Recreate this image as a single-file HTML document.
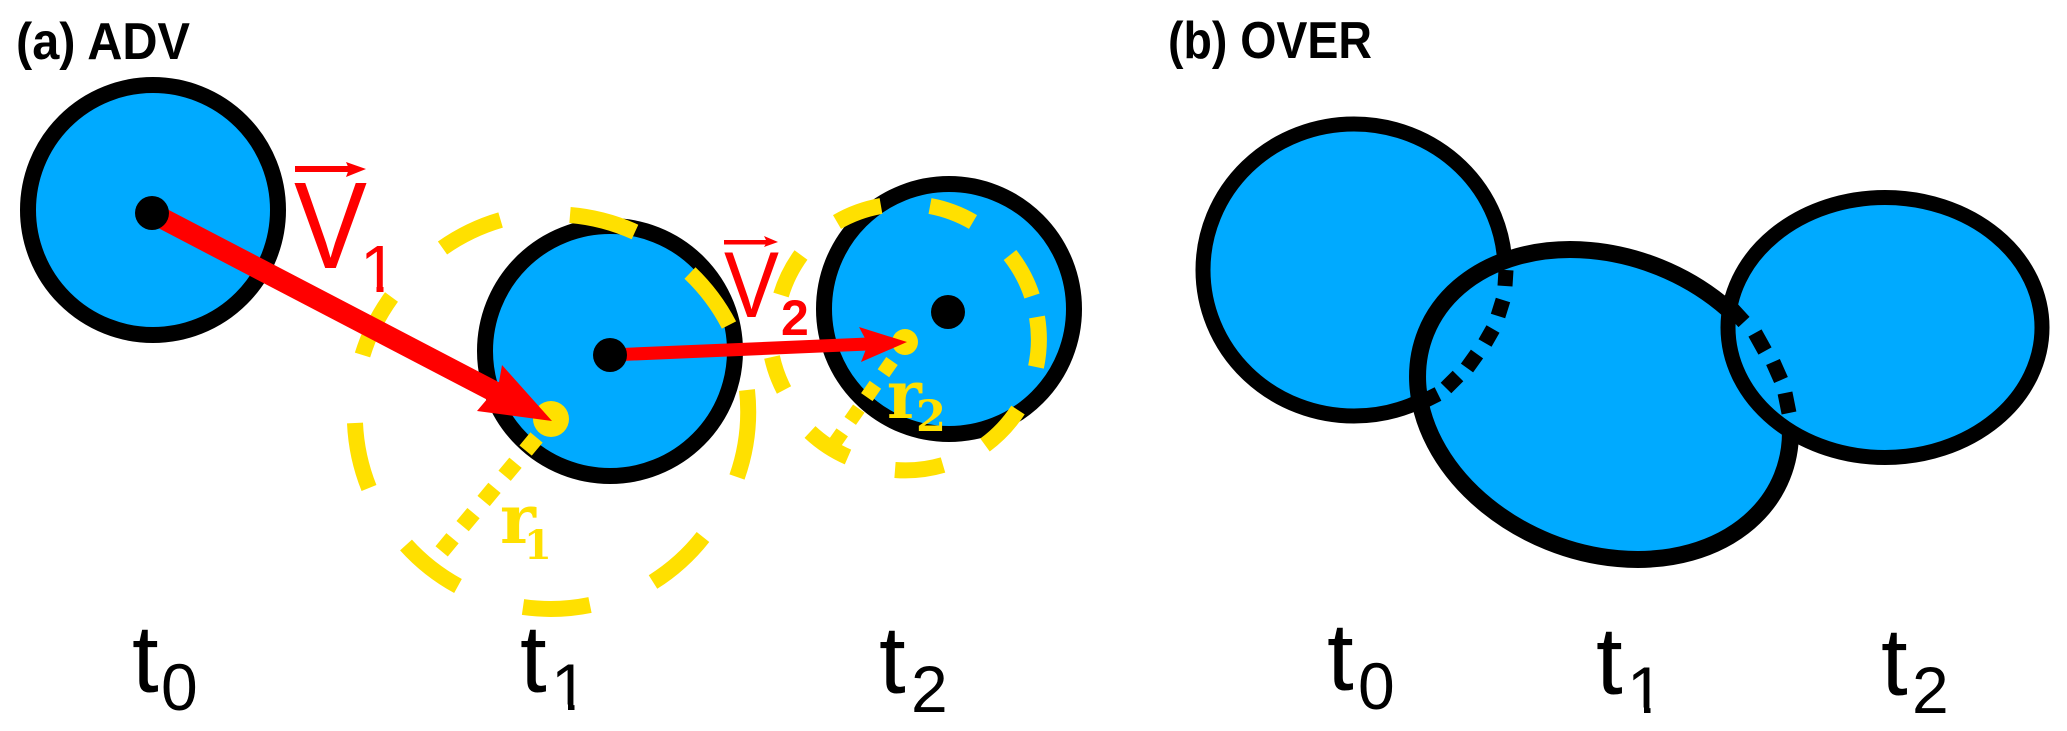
<!DOCTYPE html>
<html><head><meta charset="utf-8"><style>
html,body{margin:0;padding:0;background:#fff;width:2067px;height:731px;overflow:hidden}
svg{display:block}
text{font-family:"Liberation Sans",sans-serif}
.title{font-weight:700;font-size:52px}
.t{font-size:96px}
.s{font-size:66px}
.r{font-family:"DejaVu Serif",serif;font-weight:700;fill:#ffe000}
</style></head><body>
<svg width="2067" height="731" viewBox="0 0 2067 731" xmlns="http://www.w3.org/2000/svg">
<rect width="2067" height="731" fill="#fff"/>
<text class="title" x="16" y="59" textLength="174" lengthAdjust="spacingAndGlyphs">(a) ADV</text>
<text class="title" x="1168" y="58" textLength="204" lengthAdjust="spacingAndGlyphs">(b) OVER</text>

<g fill="#00aaff" stroke="#000" stroke-width="16">
<circle cx="153" cy="210" r="125"/>
<circle cx="610" cy="351" r="125"/>
<circle cx="949" cy="309" r="125"/>
</g>

<g fill="#f00">
<text x="360" y="292" font-size="67">1</text>
</g>
<g fill="#fff">
<rect x="362" y="286" width="14.5" height="7"/>
<rect x="383.5" y="286" width="15" height="7"/>
</g>

<g fill="none" stroke="#ffe000" stroke-width="16">
<path d="M442.5 248A197 197 0 0 1 500.6 220M570 215A197 197 0 0 1 635 232M690 273A197 197 0 0 1 729 325M747 390A197 197 0 0 1 737 477M703 537A197 197 0 0 1 653 582M590 605A197 197 0 0 1 523 607M458 586A197 197 0 0 1 406 545M369 488A197 197 0 0 1 355 423M362.5 355A197 197 0 0 1 391.5 297"/>
<path d="M837 222A134 134 0 0 1 881 206M930 206A134 134 0 0 1 973 222M1010 255A134 134 0 0 1 1032 296M1037 317A134 134 0 0 1 1036 367M1018 410A134 134 0 0 1 985 445M943 465A134 134 0 0 1 895 470M848 457A134 134 0 0 1 810 432M784 390A134 134 0 0 1 772 357M781 295A134 134 0 0 1 801 255"/>
<line x1="536.5" y1="437.5" x2="441.5" y2="551.5" stroke-dasharray="17 15.8"/>
<line x1="892" y1="361" x2="832" y2="447" stroke-width="14" stroke-dasharray="15 14"/>
</g>
<circle cx="551" cy="419" r="18" fill="#ffe000"/>
<circle cx="905" cy="342" r="13" fill="#ffe000"/>

<g fill="#f00" stroke="none">
<line x1="152" y1="213" x2="495" y2="392" stroke="#f00" stroke-width="21"/>
<polygon points="552,421 502,365 499,382 488,398 477,411"/>
<line x1="610" y1="355" x2="868" y2="344" stroke="#f00" stroke-width="13"/>
<polygon points="907,342 859,327 868,344 861,362"/>
<rect x="295" y="166" width="55" height="6"/>
<polygon points="366,169 346,162 349,169 346,177"/>
<rect x="724" y="240" width="44" height="4.5"/>
<polygon points="778,242 764,236 767,242 764,247"/>
<text x="294" y="268" font-size="123" textLength="73" lengthAdjust="spacingAndGlyphs">V</text>
<text x="724" y="317" font-size="94" textLength="55" lengthAdjust="spacingAndGlyphs">V</text>
<text x="781" y="335" font-size="50" font-weight="700">2</text>
</g>

<g fill="#000">
<circle cx="152" cy="213" r="17"/>
<circle cx="610" cy="355" r="17"/>
<circle cx="948" cy="312" r="17"/>
</g>

<text class="r" x="500" y="543" font-size="68">r</text>
<text class="r" x="524" y="559" font-size="40">1</text>
<text class="r" x="887" y="418" font-size="66">r</text>
<text class="r" x="916" y="431" font-size="43">2</text>

<text class="t" x="132" y="692">t</text><text class="s" x="161" y="710">0</text>
<text class="t" x="520" y="692">t</text><text class="s" x="551" y="710">1</text>
<rect x="553" y="704.5" width="15" height="7" fill="#fff"/><rect x="574.5" y="704.5" width="15" height="7" fill="#fff"/>
<text class="t" x="879" y="693">t</text><text class="s" x="911" y="712">2</text>
<text class="t" x="1327" y="690">t</text><text class="s" x="1358" y="709">0</text>
<text class="t" x="1596" y="694">t</text><text class="s" x="1627" y="713">1</text>
<rect x="1629" y="707.5" width="15" height="7" fill="#fff"/><rect x="1650.5" y="707.5" width="15" height="7" fill="#fff"/>
<text class="t" x="1881" y="695">t</text><text class="s" x="1912" y="713">2</text>

<g fill="#00aaff" stroke="#000">
<ellipse cx="1354" cy="270" rx="151" ry="146" stroke-width="15"/>
<ellipse cx="1604" cy="404.5" rx="192" ry="148" transform="rotate(22 1604 404.5)" stroke-width="17"/>
<ellipse cx="1885" cy="327.5" rx="157" ry="130" stroke-width="15"/>
</g>
<g fill="none" stroke="#000" stroke-width="15">
<path d="M1506 270L1505 286M1503 300L1498 316M1493 329L1485 343M1477 354L1467 368M1458 376L1446 388M1438 394L1420 403"/>
<path d="M1722 298L1744 322M1755 333L1765 351M1773 362L1781 380M1785 393L1789 413"/>
</g>
</svg>
</body></html>
